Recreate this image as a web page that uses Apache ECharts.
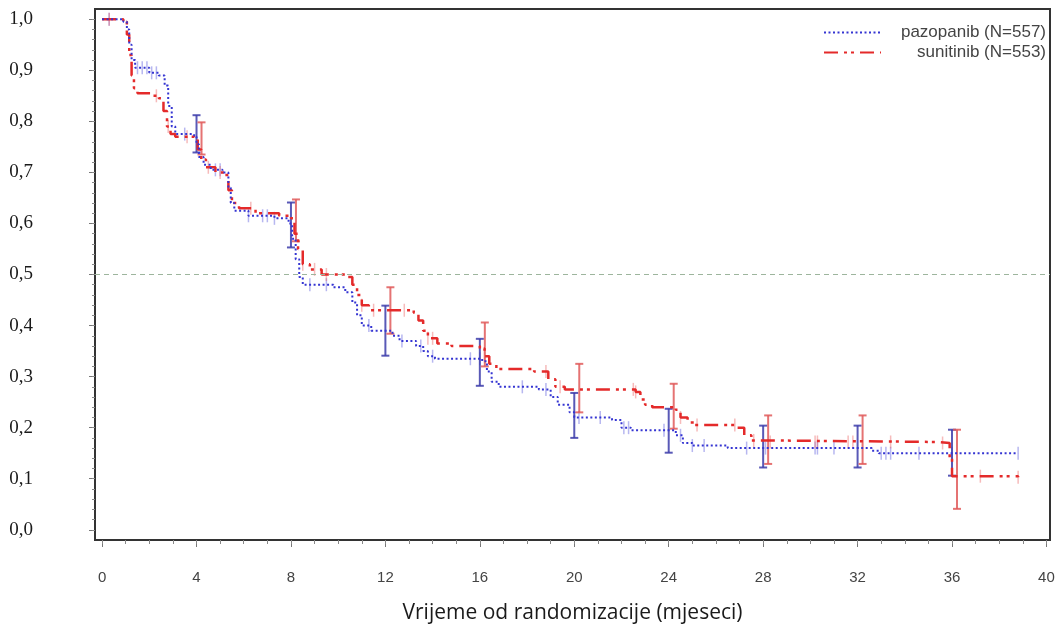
<!DOCTYPE html>
<html>
<head>
<meta charset="utf-8">
<script src="https://cdn.jsdelivr.net/npm/echarts@6/dist/echarts.min.js"></script>
<style>
  html, body { margin: 0; padding: 0; background: #fff; }
  #chart { width: 1058px; height: 630px; }
</style>
</head>
<body>
<div id="chart"></div>
<script>
// step points [month, survival after that month]
const pazopanib = [
  [0, 1.0], [0.9, 0.995], [1.05, 0.98], [1.15, 0.95], [1.25, 0.92], [1.4, 0.905],
  [2.0, 0.895], [2.4, 0.89], [2.65, 0.87], [2.8, 0.83], [2.95, 0.79], [3.1, 0.775],
  [3.9, 0.77], [4.0, 0.755], [4.1, 0.73], [4.3, 0.715], [4.6, 0.705], [5.1, 0.70],
  [5.35, 0.67], [5.45, 0.64], [5.6, 0.625], [6.2, 0.615], [7.3, 0.61], [7.9, 0.60],
  [8.05, 0.57], [8.2, 0.53], [8.35, 0.495], [8.5, 0.48], [9.8, 0.475], [10.3, 0.465],
  [10.6, 0.445], [10.8, 0.42], [11.0, 0.40], [11.4, 0.39], [12.3, 0.38], [12.6, 0.37],
  [13.3, 0.36], [13.6, 0.35], [13.8, 0.34], [14.1, 0.335], [16.1, 0.33], [16.3, 0.31],
  [16.5, 0.29], [16.8, 0.28], [18.5, 0.275], [19.0, 0.26], [19.3, 0.245], [19.8, 0.23],
  [20.0, 0.22], [21.6, 0.215], [22.0, 0.20], [22.4, 0.195], [24.3, 0.185], [24.6, 0.17],
  [25.0, 0.165], [26.5, 0.16], [32.6, 0.155], [32.9, 0.15], [38.8, 0.15]
]
const sunitinib = [
  [0, 1.0], [0.9, 0.995], [1.05, 0.97], [1.15, 0.93], [1.25, 0.89], [1.35, 0.865],
  [1.5, 0.855], [2.1, 0.85], [2.4, 0.845], [2.6, 0.82], [2.75, 0.79], [2.9, 0.775],
  [3.1, 0.77], [3.9, 0.765], [4.05, 0.745], [4.2, 0.725], [4.4, 0.71], [4.8, 0.70],
  [5.2, 0.695], [5.35, 0.665], [5.5, 0.64], [5.8, 0.63], [6.5, 0.62], [7.5, 0.615],
  [8.0, 0.61], [8.15, 0.58], [8.3, 0.55], [8.5, 0.52], [8.8, 0.51], [9.3, 0.50],
  [10.4, 0.495], [10.6, 0.48], [10.8, 0.46], [11.0, 0.44], [11.3, 0.43], [13.2, 0.425],
  [13.4, 0.41], [13.6, 0.39], [13.8, 0.375], [14.2, 0.365], [14.8, 0.36], [16.0, 0.355],
  [16.2, 0.34], [16.4, 0.325], [16.7, 0.315], [18.3, 0.31], [18.9, 0.295], [19.2, 0.28],
  [19.6, 0.275], [22.6, 0.27], [22.8, 0.255], [23.0, 0.245], [23.3, 0.24], [24.3, 0.235],
  [24.5, 0.22], [24.8, 0.21], [25.1, 0.205], [26.9, 0.2], [27.2, 0.185], [27.5, 0.175],
  [28.2, 0.172], [35.4, 0.17], [35.9, 0.14], [36.0, 0.105], [38.8, 0.103]
]

// censoring times (months)
const pazoCensor = [0.3, 1.5, 1.7, 1.9, 2.1, 2.3, 3.5, 4.8, 5.0, 6.2, 6.8, 7.0, 7.3, 8.8, 9.5,
  11.3, 12.7, 13.5, 14.0, 15.6, 16.0, 17.8, 18.8, 20.2, 21.1, 22.1, 22.3, 23.8, 24.5, 25.0,
  25.5, 27.3, 28.1, 30.2, 30.3, 31.0, 33.0, 33.2, 33.4, 34.6, 36.0, 38.8]
const suniCensor = [0.3, 2.3, 2.8, 3.6, 4.5, 5.0, 6.3, 8.5, 9.0, 9.5, 11.0, 11.5, 12.8, 13.8,
  14.0, 16.2, 18.8, 19.4, 22.5, 22.6, 24.5, 25.2, 26.8, 27.6, 28.3, 30.2, 30.3, 31.6, 31.8,
  33.4, 35.6, 37.2, 38.8]

// 95% CI at landmark months
const ciMonths = [4, 8, 12, 16, 20, 24, 28, 32, 36]
const pazoLow = [0.739, 0.553, 0.341, 0.282, 0.18, 0.151, 0.122, 0.122, 0.106]
const pazoHigh = [0.812, 0.641, 0.439, 0.374, 0.268, 0.237, 0.204, 0.204, 0.196]
const suniLow = [0.735, 0.565, 0.384, 0.32, 0.23, 0.198, 0.129, 0.129, 0.041]
const suniHigh = [0.798, 0.647, 0.475, 0.406, 0.325, 0.286, 0.224, 0.224, 0.196]

const xLabels = [0, 4, 8, 12, 16, 20, 24, 28, 32, 36, 40]
const yLabels = [0, 0.1, 0.2, 0.3, 0.4, 0.5, 0.6, 0.7, 0.8, 0.9, 1.0]

const BLUE = '#3535d2'
const RED = '#e42a2a'

function stepAt(curve, t) {
  let v = curve[0][1]
  for (const p of curve) {
    if (p[0] <= t) v = p[1]
  }
  return v
}

function ciSeries(name, low, high, color, shift) {
  return {
    name: name,
    type: 'custom',
    data: ciMonths.map((m, i) => [m, low[i], high[i]]),
    z: 3,
    renderItem: (params, api) => {
      const top = api.coord([api.value(0), api.value(2)])
      const bot = api.coord([api.value(0), api.value(1)])
      const x = top[0] + shift
      const w = 4
      const st = { stroke: color, lineWidth: 2 }
      return {
        type: 'group',
        children: [
          { type: 'line', shape: { x1: x, y1: top[1], x2: x, y2: bot[1] }, style: st },
          { type: 'line', shape: { x1: x - w, y1: top[1], x2: x + w, y2: top[1] }, style: st },
          { type: 'line', shape: { x1: x - w, y1: bot[1], x2: x + w, y2: bot[1] }, style: st }
        ]
      }
    }
  }
}

const chart = echarts.init(document.getElementById('chart'))
chart.setOption({
  animation: false,
  grid: {
    left: 95,
    right: 8,
    top: 9,
    bottom: 90,
    show: true,
    borderColor: '#333',
    borderWidth: 2
  },
  legend: {
    orient: 'vertical',
    right: 7,
    top: 19,
    itemWidth: 57,
    itemHeight: 8,
    itemGap: 3,
    data: ['pazopanib (N=557)', 'sunitinib (N=553)'],
    itemStyle: { color: 'transparent', borderColor: 'transparent', borderWidth: 0 },
    formatter: n => '{t|' + n + '}',
    textStyle: {
      rich: {
        t: {
          width: 160,
          align: 'right',
          fontFamily: 'Liberation Sans',
          fontSize: 17,
          color: '#444'
        }
      }
    }
  },
  xAxis: [
    {
      type: 'value',
      min: -0.3,
      max: 40.15,
      name: 'Vrijeme od randomizacije (mjeseci)',
      nameLocation: 'middle',
      nameGap: 63,
      nameTextStyle: { fontFamily: 'Open Sans', fontSize: 21, color: '#1a1a1a' },
      axisLine: { show: false, onZero: false },
      splitLine: { show: false },
      axisTick: { customValues: xLabels, length: 7, lineStyle: { color: '#777' } },
      axisLabel: {
        customValues: xLabels,
        margin: 30,
        fontFamily: 'Liberation Sans',
        fontSize: 15,
        color: '#444'
      }
    },
    {
      type: 'value',
      min: -0.3,
      max: 40.15,
      position: 'bottom',
      axisLine: { show: false, onZero: false },
      splitLine: { show: false },
      axisLabel: { show: false },
      axisTick: {
        customValues: Array.from({ length: 41 }, (_, i) => i),
        length: 4,
        lineStyle: { color: '#888' }
      }
    }
  ],
  yAxis: [
    {
      type: 'value',
      min: -0.02,
      max: 1.02,
      axisLine: { show: false, onZero: false },
      splitLine: { show: false },
      axisTick: { customValues: yLabels, length: 6, lineStyle: { color: '#777' } },
      axisLabel: {
        customValues: yLabels,
        margin: 62,
        align: 'right',
        fontFamily: 'Liberation Serif',
        fontSize: 19,
        color: '#1a1a1a',
        formatter: v => v.toFixed(1).replace('.', ',')
      }
    },
    {
      type: 'value',
      min: -0.02,
      max: 1.02,
      position: 'left',
      axisLine: { show: false, onZero: false },
      splitLine: { show: false },
      axisLabel: { show: false },
      axisTick: {
        customValues: Array.from({ length: 51 }, (_, i) => i * 0.02),
        length: 3,
        lineStyle: { color: '#888' }
      }
    }
  ],
  series: [
    {
      name: 'pazopanib (N=557)',
      type: 'line',
      step: 'end',
      data: pazopanib,
      symbol: 'none',
      z: 5,
      lineStyle: { color: BLUE, width: 2, type: [2, 2.5] },
      itemStyle: { color: BLUE },
      markLine: {
        silent: true,
        symbol: 'none',
        label: { show: false },
        lineStyle: { color: '#9db59d', width: 1, type: [5, 4] },
        data: [{ yAxis: 0.5 }]
      }
    },
    {
      name: 'sunitinib (N=553)',
      type: 'line',
      step: 'end',
      data: sunitinib,
      symbol: 'none',
      z: 4,
      lineStyle: { color: RED, width: 2.5, type: [14, 6, 3, 4, 3, 6] },
      itemStyle: { color: RED }
    },
    {
      name: 'pazopanib censored',
      type: 'scatter',
      data: pazoCensor.map(t => [t, stepAt(pazopanib, t)]),
      symbol: 'rect',
      symbolSize: [1.5, 13],
      itemStyle: { color: 'rgba(90,90,220,0.55)' },
      z: 2
    },
    {
      name: 'sunitinib censored',
      type: 'scatter',
      data: suniCensor.map(t => [t, stepAt(sunitinib, t)]),
      symbol: 'rect',
      symbolSize: [1.5, 13],
      itemStyle: { color: 'rgba(235,100,100,0.55)' },
      z: 2
    },
    ciSeries('pazopanib CI', pazoLow, pazoHigh, 'rgba(60,60,170,0.85)', 0),
    ciSeries('sunitinib CI', suniLow, suniHigh, 'rgba(225,90,90,0.85)', 5)
  ]
})
</script>
</body>
</html>
